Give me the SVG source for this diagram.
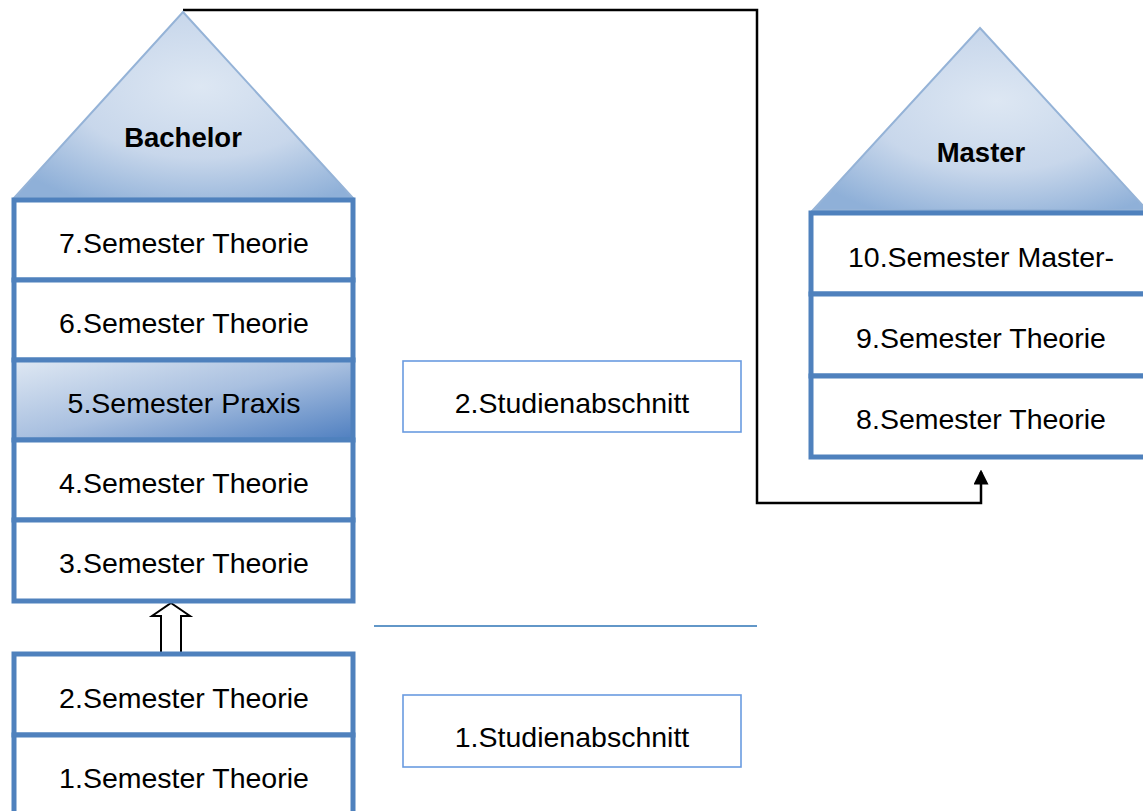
<svg xmlns="http://www.w3.org/2000/svg" width="1143" height="811" viewBox="0 0 1143 811">
<style>
.box{fill:#ffffff;stroke:#4f81bd;stroke-width:5}
.roof{stroke:#95b3d7;stroke-width:2;fill:url(#roofGrad)}
.sec{fill:#ffffff;stroke:#6a9be0;stroke-width:1.6}
.t{font-family:"Liberation Sans",Arial,sans-serif;font-size:28.5px;fill:#000;text-anchor:middle}
.b{font-family:"Liberation Sans",Arial,sans-serif;font-size:27.5px;font-weight:bold;fill:#000;text-anchor:middle}
.conn{fill:none;stroke:#000;stroke-width:2.5}
</style>
<defs>
<radialGradient id="roofGrad" cx="0.55" cy="0.4" r="0.7">
<stop offset="0" stop-color="#dde7f3"/>
<stop offset="0.55" stop-color="#c8d7eb"/>
<stop offset="1" stop-color="#8fb0d8"/>
</radialGradient>
<linearGradient id="praxisGrad" x1="0" y1="0" x2="1" y2="1">
<stop offset="0" stop-color="#dfe8f3"/>
<stop offset="0.5" stop-color="#a9c0e0"/>
<stop offset="1" stop-color="#4f7fc0"/>
</linearGradient>
<marker id="arr" markerWidth="6" markerHeight="6" refX="5" refY="3" orient="auto" markerUnits="strokeWidth">
<path d="M0,0 L6,3 L0,6 Z" fill="#000"/>
</marker>
</defs>
<g id="connectors">
<path class="conn" d="M183,10 H757 V503 H981 V472" marker-end="url(#arr)"/>
<line x1="374" y1="626" x2="757" y2="626" stroke="#2e75b6" stroke-width="1.6"/>
<path d="M171,603 L190,616 L181,616 L181,654 L161,654 L161,616 L152,616 Z" fill="#fff" stroke="#000" stroke-width="2"/>
</g>
<g id="bachelor-roof">
<polygon class="roof" points="183,12 353,198 14,198"/>
<text class="b" x="183" y="147">Bachelor</text>
</g>
<g id="sem7"><rect class="box" x="14" y="200" width="339" height="80"/><text class="t" x="184" y="253">7.Semester Theorie</text></g>
<g id="sem6"><rect class="box" x="14" y="280" width="339" height="80"/><text class="t" x="184" y="333">6.Semester Theorie</text></g>
<g id="sem5"><rect class="box" x="14" y="360" width="339" height="80" style="fill:url(#praxisGrad)"/><text class="t" x="184" y="413">5.Semester Praxis</text></g>
<g id="sem4"><rect class="box" x="14" y="440" width="339" height="80"/><text class="t" x="184" y="493">4.Semester Theorie</text></g>
<g id="sem3"><rect class="box" x="14" y="520" width="339" height="81"/><text class="t" x="184" y="573">3.Semester Theorie</text></g>
<g id="sem2"><rect class="box" x="14" y="654" width="339" height="81"/><text class="t" x="184" y="708">2.Semester Theorie</text></g>
<g id="sem1"><rect class="box" x="14" y="735" width="339" height="82"/><text class="t" x="184" y="788">1.Semester Theorie</text></g>
<g id="abschnitt2"><rect class="sec" x="403" y="361" width="338" height="71"/><text class="t" x="572" y="413">2.Studienabschnitt</text></g>
<g id="abschnitt1"><rect class="sec" x="403" y="695" width="338" height="72"/><text class="t" x="572" y="747">1.Studienabschnitt</text></g>
<g id="master-roof">
<polygon class="roof" points="980,28 1147,210 813,210"/>
<text class="b" x="981" y="162">Master</text>
</g>
<g id="sem10"><rect class="box" x="811" y="213" width="340" height="81"/><text class="t" x="981" y="267">10.Semester Master-</text></g>
<g id="sem9"><rect class="box" x="811" y="294" width="340" height="82"/><text class="t" x="981" y="348">9.Semester Theorie</text></g>
<g id="sem8"><rect class="box" x="811" y="376" width="340" height="81"/><text class="t" x="981" y="429">8.Semester Theorie</text></g>
</svg>
